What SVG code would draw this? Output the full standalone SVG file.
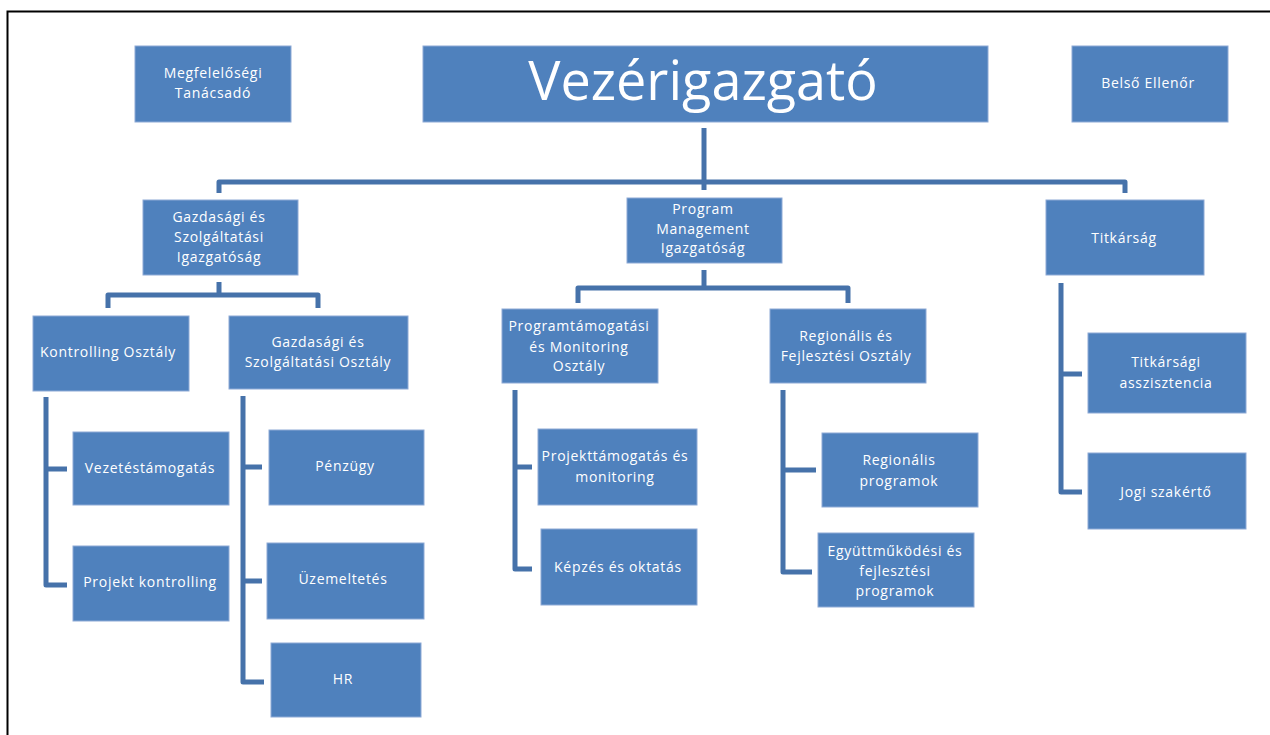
<svg xmlns="http://www.w3.org/2000/svg" width="1270" height="735" viewBox="0 0 1270 735">
<style>
.box{fill:#4f81bd;stroke:#8eaad6;stroke-width:1}
.t{font-family:"Open Sans","Liberation Sans",sans-serif;font-size:14px;letter-spacing:0.7px;fill:#ffffff;text-anchor:middle}
.big{font-family:"Open Sans","Liberation Sans",sans-serif;font-size:54px;fill:#ffffff;text-anchor:middle}
.c{fill:none;stroke:#4672aa;stroke-width:5;stroke-linejoin:round;stroke-linecap:butt}
</style>
<rect width="1270" height="735" fill="#ffffff"/>
<path d="M7.5,735 V11.5 H1270" fill="none" stroke="#000000" stroke-width="2"/>
<g id="connectors">
<path class="c" d="M704,128 V190"/>
<path class="c" d="M219,193 V182 H1125 V193"/>
<path class="c" d="M219,282 V295"/>
<path class="c" d="M108,308 V295 H318 V308"/>
<path class="c" d="M704,270 V288"/>
<path class="c" d="M578,303 V288 H848 V303"/>
<path class="c" d="M46,397 V585 H67 M46,469 H67"/>
<path class="c" d="M243,396 V682 H264 M243,467 H262 M243,581 H262"/>
<path class="c" d="M515,390 V569 H532 M515,467 H532"/>
<path class="c" d="M783,390 V572 H812 M783,470 H816"/>
<path class="c" d="M1061,283 V492 H1082 M1061,374 H1082"/>
</g>
<g id="megfelelosegi"><rect class="box" x="135" y="46" width="156" height="76"/><text class="t" x="213" y="78">Megfelelőségi</text><text class="t" x="213" y="98">Tanácsadó</text></g>
<g id="vezerigazgato"><rect class="box" x="423" y="46" width="565" height="76"/><text class="big" x="703" y="100">Vezérigazgató</text></g>
<g id="belso"><rect class="box" x="1072" y="46" width="156" height="76"/><text class="t" x="1148" y="88">Belső Ellenőr</text></g>
<g id="gszi"><rect class="box" x="143" y="200" width="155" height="75"/><text class="t" x="219" y="222">Gazdasági és</text><text class="t" x="219" y="242">Szolgáltatási</text><text class="t" x="219" y="262">Igazgatóság</text></g>
<g id="pmi"><rect class="box" x="627" y="198" width="155" height="65"/><text class="t" x="703" y="214">Program</text><text class="t" x="703" y="234">Management</text><text class="t" x="703" y="253">Igazgatóság</text></g>
<g id="titkarsag"><rect class="box" x="1046" y="200" width="158" height="75"/><text class="t" x="1124" y="243">Titkárság</text></g>
<g id="kontrolling"><rect class="box" x="33" y="316" width="156" height="75"/><text class="t" x="108" y="357">Kontrolling Osztály</text></g>
<g id="gszo"><rect class="box" x="229" y="316" width="179" height="73"/><text class="t" x="318" y="347">Gazdasági és</text><text class="t" x="318" y="367">Szolgáltatási Osztály</text></g>
<g id="vezetestamogatas"><rect class="box" x="73" y="432" width="156" height="73"/><text class="t" x="150" y="473">Vezetéstámogatás</text></g>
<g id="projektkontrolling"><rect class="box" x="73" y="546" width="156" height="75"/><text class="t" x="150" y="587">Projekt kontrolling</text></g>
<g id="penzugy"><rect class="box" x="269" y="430" width="155" height="75"/><text class="t" x="345" y="471">Pénzügy</text></g>
<g id="uzemeltetes"><rect class="box" x="267" y="543" width="157" height="76"/><text class="t" x="343" y="584">Üzemeltetés</text></g>
<g id="hr"><rect class="box" x="271" y="643" width="150" height="74"/><text class="t" x="343" y="684">HR</text></g>
<g id="pmo"><rect class="box" x="502" y="309" width="156" height="74"/><text class="t" x="579" y="331">Programtámogatási</text><text class="t" x="579" y="352">és Monitoring</text><text class="t" x="579" y="371">Osztály</text></g>
<g id="rfo"><rect class="box" x="770" y="309" width="156" height="74"/><text class="t" x="846" y="341">Regionális és</text><text class="t" x="846" y="361">Fejlesztési Osztály</text></g>
<g id="projekttamogatas"><rect class="box" x="538" y="429" width="159" height="76"/><text class="t" x="615" y="461">Projekttámogatás és</text><text class="t" x="615" y="482">monitoring</text></g>
<g id="kepzes"><rect class="box" x="541" y="529" width="156" height="76"/><text class="t" x="618" y="572">Képzés és oktatás</text></g>
<g id="regprog"><rect class="box" x="822" y="433" width="156" height="74"/><text class="t" x="899" y="465">Regionális</text><text class="t" x="899" y="486">programok</text></g>
<g id="egyutt"><rect class="box" x="818" y="533" width="156" height="74"/><text class="t" x="895" y="556">Együttműködési és</text><text class="t" x="895" y="576">fejlesztési</text><text class="t" x="895" y="596">programok</text></g>
<g id="titkasszisztencia"><rect class="box" x="1088" y="333" width="158" height="80"/><text class="t" x="1166" y="367">Titkársági</text><text class="t" x="1166" y="388">asszisztencia</text></g>
<g id="jogi"><rect class="box" x="1088" y="453" width="158" height="76"/><text class="t" x="1166" y="497">Jogi szakértő</text></g>
</svg>
